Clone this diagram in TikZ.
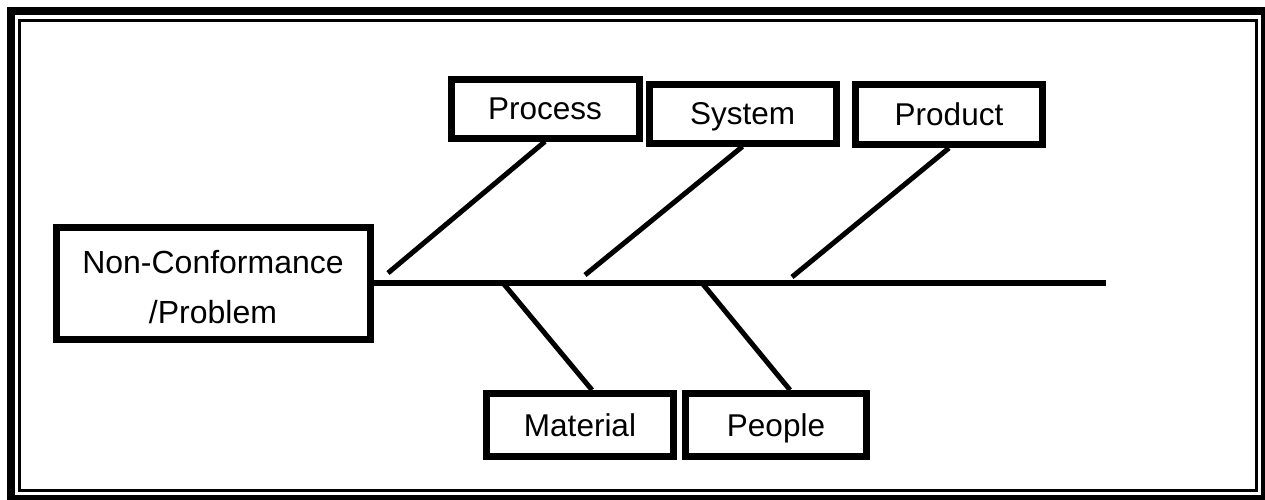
\documentclass[tikz,border=0pt]{standalone}
\usepackage{fontspec}
\setmainfont{Liberation Sans}
\usetikzlibrary{calc}
\begin{document}
\begin{tikzpicture}[x=1pt,y=-1pt,
  box/.style={draw, line width=7pt, rectangle, inner sep=0pt, text height=22pt, text depth=0pt, font=\fontsize{31.5}{31.5}\selectfont},
  bone/.style={line width=5pt},
  spine/.style={line width=6pt},
  maintext/.style={font=\fontsize{32}{50}\selectfont, align=center, inner sep=0pt}]
\useasboundingbox (0,0) rectangle (1265,499);
% frame
\draw[line width=8pt] (11,11) rectangle (1265,499);
\draw[line width=3pt] (19.5,20) rectangle (1256.5,490.5);
% boxes
\node[box, minimum width=314pt, minimum height=112pt] (prob) at (213,283) {};
\node[maintext] (probtext) at (213,287) {Non-Conformance\\/Problem};
\node[box, minimum width=188pt, minimum height=59pt] (proc) at (545,108.5) {Process};
\node[box, minimum width=187pt, minimum height=59pt] (sys) at (742.5,113.5) {System};
\node[box, minimum width=187pt, minimum height=60pt] (prod) at (949,114.5) {Product};
\node[box, minimum width=187pt, minimum height=63pt] (mat) at (580,425) {Material};
\node[box, minimum width=181pt, minimum height=63pt] (peo) at (776,425) {People};
% coordinates
\coordinate (spineend) at (1106,283);
\coordinate (p1) at (388,273);
\coordinate (p2) at (585,275);
\coordinate (p3) at (792,277);
\coordinate (m1) at (503,283);
\coordinate (q1) at (702,283);
% spine and bones
\draw[spine] (prob.east) -- (spineend);
\draw[bone] (proc.south) -- (p1);
\draw[bone] (sys.south) -- (p2);
\draw[bone] (prod.south) -- (p3);
\draw[bone] (m1) -- ($(mat.north)+(12,0)$);
\draw[bone] (q1) -- ($(peo.north)+(14,0)$);
\end{tikzpicture}
\end{document}
